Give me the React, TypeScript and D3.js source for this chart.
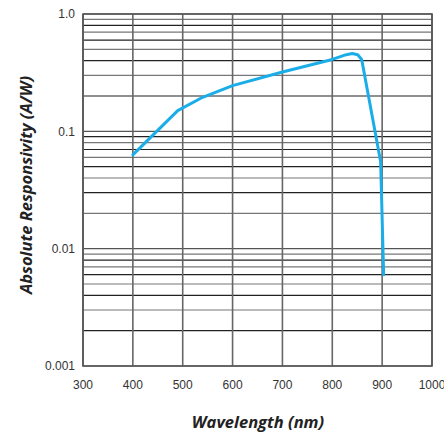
import React from 'react';
import * as d3 from 'd3';

// wavelength (nm) vs absolute responsivity (A/W)
const wavelengths = [400, 490, 540, 600, 700, 800, 828, 840, 851, 859, 897, 903];
const responsivity = [0.063, 0.15, 0.195, 0.245, 0.32, 0.41, 0.45, 0.46, 0.45, 0.41, 0.055, 0.006];

const xTicks = [300, 400, 500, 600, 700, 800, 900, 1000];
const yTicks = [0.001, 0.01, 0.1, 1];
const yTickLabels = ['0.001', '0.01', '0.1', '1.0'];

const W = 444;
const H = 432;
const margin = { left: 83, top: 14, right: 12, bottom: 66 };

export default function App() {
	const innerW = W - margin.left - margin.right;
	const innerH = H - margin.top - margin.bottom;

	const x = d3.scaleLinear().domain([300, 1000]).range([0, innerW]);
	const y = d3.scaleLog().domain([0.001, 1]).range([innerH, 0]);

	// minor log grid: 1..9 in each decade
	const hLines: number[] = [];
	[0.001, 0.01, 0.1].forEach(d => {
		for (let k = 1; k <= 9; k++) hLines.push(d * k);
	});
	hLines.push(1);

	const data = wavelengths.map((w, i) => ({ w, r: responsivity[i] }));
	const line = d3.line<{ w: number; r: number }>()
		.x(d => x(d.w))
		.y(d => y(d.r));

	const tickFont = '"Liberation Sans", Arial, sans-serif';
	const titleFont = '"Open Sans", sans-serif';

	return (
		<svg width={W} height={H} style={{ position: 'absolute', left: 0, top: 0, background: '#fff' }}>
			<g transform={`translate(${margin.left},${margin.top})`}>
				{/* horizontal grid */}
				{hLines.map((v, i) => (
					<line key={'h' + i} x1={0} x2={innerW} y1={y(v)} y2={y(v)}
						stroke={i % 9 === 0 ? '#555' : (i % 2 ? '#222' : '#777')} strokeWidth={1.2} />
				))}
				{/* vertical grid */}
				{xTicks.map(t => (
					<line key={'v' + t} x1={x(t)} x2={x(t)} y1={0} y2={innerH}
						stroke="#666" strokeWidth={1.6} />
				))}
				<rect x={0} y={0} width={innerW} height={innerH} fill="none" stroke="#555" strokeWidth={1.6} />

				<path d={line(data) || ''} fill="none" stroke="#1AADE8" strokeWidth={3}
					strokeLinejoin="round" strokeLinecap="round" />

				{yTicks.map((t, i) => (
					<text key={'yt' + t} x={-8} y={y(t)} dy="0.35em" textAnchor="end"
						fontFamily={tickFont} fontSize={12} fill="#333">{yTickLabels[i]}</text>
				))}
				{xTicks.map(t => (
					<text key={'xt' + t} x={x(t)} y={innerH + 23} textAnchor="middle"
						fontFamily={tickFont} fontSize={12} fill="#333">{t}</text>
				))}
			</g>
			<text transform={`translate(32,185) rotate(-90)`} textAnchor="middle"
				fontFamily={titleFont} fontStyle="italic" fontWeight="bold" fontSize={16.5} fill="#222">
				Absolute Responsivity (A/W)
			</text>
			<text x={258} y={428} textAnchor="middle"
				fontFamily={titleFont} fontStyle="italic" fontWeight="bold" fontSize={16.5} fill="#222">
				Wavelength (nm)
			</text>
		</svg>
	);
}
